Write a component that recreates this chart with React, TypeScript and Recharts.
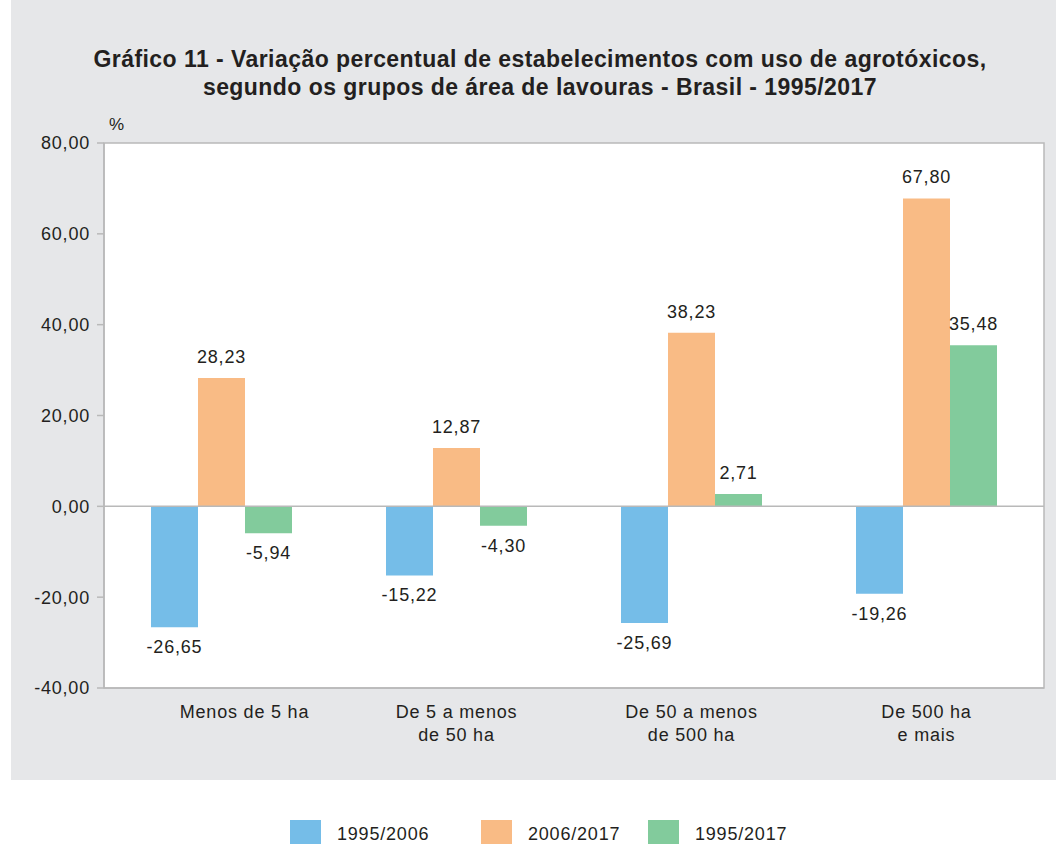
import React from "react";
import { BarChart, Bar, XAxis, YAxis, CartesianGrid, ReferenceLine, ReferenceArea, LabelList } from "recharts";

const categories = ["Menos de 5 ha", "De 5 a menos de 50 ha", "De 50 a menos de 500 ha", "De 500 ha e mais"];
const tickLabels = [["Menos de 5 ha"], ["De 5 a menos", "de 50 ha"], ["De 50 a menos", "de 500 ha"], ["De 500 ha", "e mais"]];
const seriesNames = ["1995/2006", "2006/2017", "1995/2017"];
const values19952006 = [-26.65, -15.22, -25.69, -19.26];
const values20062017 = [28.23, 12.87, 38.23, 67.8];
const values19952017 = [-5.94, -4.3, 2.71, 35.48];
const yTicks = [-40, -20, 0, 20, 40, 60, 80];
const colors = ["#75bde8", "#f9bb85", "#82cb9c"];

const data = categories.map((c, i) => ({
  name: c,
  a: values19952006[i],
  b: values20062017[i],
  c: values19952017[i],
}));

const FONT = "'Liberation Sans', Arial, Helvetica, sans-serif";
const TEXT = "#231f20";
const LINE = "#b9b9b9";
const tickShift = [23, 0, 0, 0];

const fmt = (v: number) => v.toFixed(2).replace(".", ",");

const BarLabel = (props: any) => {
  const { x, y, width, height, value } = props;
  const top = Math.min(y, y + height);
  const bottom = Math.max(y, y + height);
  const cx = x + width / 2;
  const ty = value >= 0 ? top - 15 : bottom + 26;
  return (
    <text x={cx} y={ty} textAnchor="middle" fill={TEXT} fontSize={18} fontFamily={FONT} style={{ letterSpacing: "0.8px" }}>
      {fmt(value)}
    </text>
  );
};

const XTick = (props: any) => {
  const { x, y, payload } = props;
  const lines = tickLabels[payload.index] || [String(payload.value)];
  const tx = x + (tickShift[payload.index] || 0);
  return (
    <text x={tx} y={y} textAnchor="middle" fill={TEXT} fontSize={18} fontFamily={FONT} style={{ letterSpacing: "0.8px" }}>
      {lines.map((l, i) => (
        <tspan key={i} x={tx} dy={i === 0 ? 30 : 23}>
          {l}
        </tspan>
      ))}
    </text>
  );
};

export default function App() {
  return (
    <div style={{ position: "absolute", left: 0, top: 0, width: 1056, height: 844, background: "#ffffff", fontFamily: FONT }}>
      <div style={{ position: "absolute", left: 11, top: 0, width: 1045, height: 780, background: "#e6e7e9" }} />
      <div
        style={{
          position: "absolute",
          left: 40,
          top: 45,
          width: 1000,
          textAlign: "center",
          fontWeight: "bold",
          fontSize: 23,
          lineHeight: "28px",
          letterSpacing: "0.45px",
          color: TEXT,
        }}
      >
        Gráfico 11 - Variação percentual de estabelecimentos com uso de agrotóxicos,
        <br />
        segundo os grupos de área de lavouras - Brasil - 1995/2017
      </div>
      <div style={{ position: "absolute", left: 109, top: 115, fontSize: 17, color: TEXT }}>%</div>
      <div style={{ position: "absolute", left: 0, top: 0 }}>
        <BarChart
          width={1056}
          height={844}
          data={data}
          margin={{ top: 143, right: 12, left: 0, bottom: 96 }}
          barCategoryGap="20%"
          barGap={0}
        >
          <CartesianGrid fill="#ffffff" horizontal={false} vertical={false} />
          <ReferenceArea y1={-40} y2={80} fill="none" stroke={LINE} strokeWidth={1.5} ifOverflow="visible" />
          <ReferenceLine y={0} stroke={LINE} strokeWidth={1.5} />
          <XAxis
            dataKey="name"
            height={60}
            tickLine={false}
            tickSize={0}
            tickMargin={0}
            axisLine={{ stroke: LINE, strokeWidth: 1.5 }}
            tick={<XTick />}
            interval={0}
          />
          <YAxis
            width={104}
            domain={[-40, 80]}
            ticks={yTicks}
            tickFormatter={fmt}
            tickSize={7}
            tickMargin={7}
            axisLine={{ stroke: LINE, strokeWidth: 1.5 }}
            tickLine={{ stroke: LINE, strokeWidth: 1.5 }}
            tick={{ fill: TEXT, fontSize: 18, fontFamily: FONT, style: { letterSpacing: "0.8px" } }}
            allowDataOverflow
          />
          <Bar dataKey="a" name={seriesNames[0]} fill={colors[0]} isAnimationActive={false}>
            <LabelList dataKey="a" content={<BarLabel />} />
          </Bar>
          <Bar dataKey="b" name={seriesNames[1]} fill={colors[1]} isAnimationActive={false}>
            <LabelList dataKey="b" content={<BarLabel />} />
          </Bar>
          <Bar dataKey="c" name={seriesNames[2]} fill={colors[2]} isAnimationActive={false}>
            <LabelList dataKey="c" content={<BarLabel />} />
          </Bar>
        </BarChart>
      </div>
      {seriesNames.map((n, i) => (
        <div key={n} style={{ position: "absolute", left: [290, 481, 648][i], top: 820, display: "flex", alignItems: "flex-start" }}>
          <div style={{ width: 31, height: 31, background: colors[i] }} />
          <div style={{ marginLeft: 16, marginTop: 3, fontSize: 18, letterSpacing: "0.8px", color: TEXT, lineHeight: "22px" }}>
            {n}
          </div>
        </div>
      ))}
    </div>
  );
}
